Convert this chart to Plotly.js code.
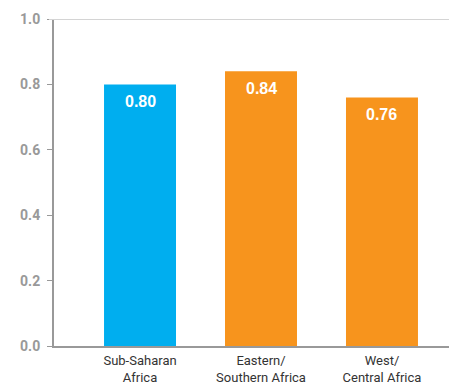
<!DOCTYPE html>
<html>
<head>
<meta charset="utf-8">
<script src="https://cdn.plot.ly/plotly-3.0.1.min.js"></script>
<style>html,body{margin:0;padding:0;background:#fff;}#chart{width:449px;height:383px;}</style>
</head>
<body>
<div id="chart"></div>
<script>
var categories = ["Sub-Saharan<br>Africa", "Eastern/<br>Southern Africa", "West/<br>Central Africa"];
var values = [0.80, 0.84, 0.76];
var barColors = ["#00AEEF", "#F7941D", "#F7941D"];
var valueLabels = ["0.80", "0.84", "0.76"];
var yTicks = [0, 0.2, 0.4, 0.6, 0.8, 1.0];
var yTickLabels = ["0.0", "0.2", "0.4", "0.6", "0.8", "1.0"];

var trace = {
  type: "bar",
  x: [0, 1, 2],
  y: values,
  marker: {color: barColors},
  width: 0.595,
  hoverinfo: "none"
};

var annotations = values.map(function (v, i) {
  return {
    x: i, y: v, xref: "x", yref: "y",
    text: valueLabels[i],
    showarrow: false,
    yanchor: "top",
    yshift: -7,
    font: {family: "Liberation Sans, Arial, sans-serif", size: 16, color: "#ffffff", weight: "bold"}
  };
});

var layout = {
  width: 449, height: 383,
  margin: {l: 54, r: 0, t: 19, b: 37},
  paper_bgcolor: "#ffffff",
  plot_bgcolor: "#ffffff",
  showlegend: false,
  xaxis: {
    range: [-0.711, 2.554],
    tickmode: "array",
    tickvals: [0, 1, 2],
    ticktext: categories,
    showline: true,
    linecolor: "#999999",
    linewidth: 2,
    ticks: "",
    showgrid: false,
    zeroline: false,
    ticklabelstandoff: 1,
    tickfont: {family: "Roboto, sans-serif", size: 13, color: "#333333"}
  },
  yaxis: {
    range: [0, 1],
    tickmode: "array",
    tickvals: yTicks,
    ticktext: yTickLabels,
    showline: true,
    linecolor: "#999999",
    linewidth: 2,
    ticks: "outside",
    ticklen: 5,
    tickwidth: 1,
    tickcolor: "#999999",
    showgrid: false,
    zeroline: false,
    ticklabelstandoff: 4,
    tickfont: {family: "Roboto, sans-serif", size: 14, color: "#999999", weight: "bold"}
  },
  shapes: [{
    type: "line", xref: "paper", yref: "y",
    x0: -0.0127, x1: 1, y0: 1, y1: 1,
    line: {color: "#d4d4d4", width: 2}
  }],
  annotations: annotations
};

Plotly.newPlot("chart", [trace], layout, {staticPlot: true, displayModeBar: false});
</script>
</body>
</html>
